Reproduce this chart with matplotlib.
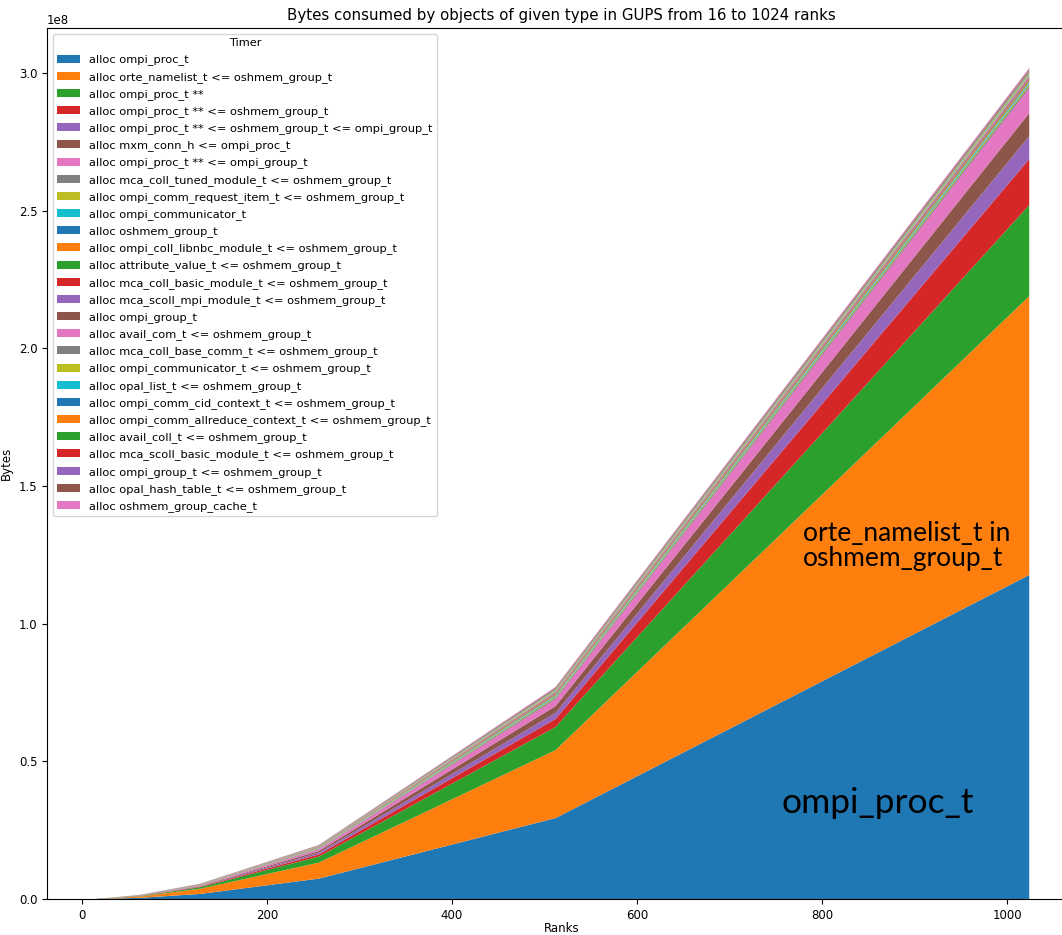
import numpy as np
import matplotlib
matplotlib.use("Agg")
import matplotlib.pyplot as plt

# Ranks measured
ranks = [16, 32, 64, 128, 256, 512, 1024]

# Bytes per object type, in units of 1e6 bytes
ompi_proc = [0.03, 0.12, 0.46, 1.84, 7.4, 29.4, 117.7]
orte_namelist = [0.03, 0.13, 0.50, 1.90, 5.8, 24.7, 101.3]
proc_pp = [0.01, 0.04, 0.14, 0.55, 2.2, 8.4, 33.1]
proc_pp_osh = [0.003, 0.013, 0.05, 0.20, 0.8, 2.9, 16.7]
proc_pp_osh_grp = [0.002, 0.01, 0.04, 0.15, 0.6, 2.2, 8.3]
mxm_conn = [0.002, 0.01, 0.04, 0.15, 0.6, 2.5, 8.4]
proc_pp_grp = [0.003, 0.01, 0.04, 0.17, 0.7, 2.5, 9.1]
coll_tuned = [0.012, 0.018, 0.036, 0.072, 0.18, 0.53, 0.86]
comm_req_item = [0.008, 0.012, 0.024, 0.048, 0.12, 0.35, 0.58]
communicator = [0.008, 0.012, 0.024, 0.048, 0.12, 0.35, 0.58]
oshmem_group = [0.003, 0.005, 0.009, 0.018, 0.045, 0.13, 0.22]
libnbc = [0.006, 0.009, 0.018, 0.036, 0.09, 0.26, 0.43]
attribute_value = [0.004, 0.006, 0.012, 0.024, 0.06, 0.18, 0.29]
coll_basic = [0.005, 0.008, 0.015, 0.03, 0.075, 0.22, 0.36]
scoll_mpi = [0.004, 0.006, 0.012, 0.024, 0.06, 0.18, 0.29]
ompi_group = [0.006, 0.009, 0.018, 0.036, 0.09, 0.26, 0.43]
avail_com = [0.005, 0.008, 0.015, 0.03, 0.075, 0.22, 0.36]
coll_base_comm = [0.004, 0.006, 0.012, 0.024, 0.06, 0.18, 0.29]
communicator_osh = [0.006, 0.009, 0.018, 0.036, 0.09, 0.26, 0.43]
opal_list = [0.003, 0.005, 0.009, 0.018, 0.045, 0.13, 0.22]
cid_context = [0.003, 0.005, 0.009, 0.018, 0.045, 0.13, 0.22]
allreduce_context = [0.003, 0.005, 0.009, 0.018, 0.045, 0.13, 0.22]
avail_coll = [0.004, 0.006, 0.012, 0.024, 0.06, 0.18, 0.29]
scoll_basic = [0.004, 0.006, 0.012, 0.024, 0.06, 0.18, 0.29]
ompi_group_osh = [0.005, 0.008, 0.015, 0.03, 0.075, 0.22, 0.36]
opal_hash_table = [0.004, 0.006, 0.012, 0.024, 0.06, 0.18, 0.29]
group_cache = [0.004, 0.006, 0.012, 0.024, 0.06, 0.18, 0.29]

labels = [
    "alloc ompi_proc_t",
    "alloc orte_namelist_t <= oshmem_group_t",
    "alloc ompi_proc_t **",
    "alloc ompi_proc_t ** <= oshmem_group_t",
    "alloc ompi_proc_t ** <= oshmem_group_t <= ompi_group_t",
    "alloc mxm_conn_h <= ompi_proc_t",
    "alloc ompi_proc_t ** <= ompi_group_t",
    "alloc mca_coll_tuned_module_t <= oshmem_group_t",
    "alloc ompi_comm_request_item_t <= oshmem_group_t",
    "alloc ompi_communicator_t",
    "alloc oshmem_group_t",
    "alloc ompi_coll_libnbc_module_t <= oshmem_group_t",
    "alloc attribute_value_t <= oshmem_group_t",
    "alloc mca_coll_basic_module_t <= oshmem_group_t",
    "alloc mca_scoll_mpi_module_t <= oshmem_group_t",
    "alloc ompi_group_t",
    "alloc avail_com_t <= oshmem_group_t",
    "alloc mca_coll_base_comm_t <= oshmem_group_t",
    "alloc ompi_communicator_t <= oshmem_group_t",
    "alloc opal_list_t <= oshmem_group_t",
    "alloc ompi_comm_cid_context_t <= oshmem_group_t",
    "alloc ompi_comm_allreduce_context_t <= oshmem_group_t",
    "alloc avail_coll_t <= oshmem_group_t",
    "alloc mca_scoll_basic_module_t <= oshmem_group_t",
    "alloc ompi_group_t <= oshmem_group_t",
    "alloc opal_hash_table_t <= oshmem_group_t",
    "alloc oshmem_group_cache_t",
]

series = [ompi_proc, orte_namelist, proc_pp, proc_pp_osh, proc_pp_osh_grp,
          mxm_conn, proc_pp_grp, coll_tuned, comm_req_item, communicator,
          oshmem_group, libnbc, attribute_value, coll_basic, scoll_mpi,
          ompi_group, avail_com, coll_base_comm, communicator_osh, opal_list,
          cid_context, allreduce_context, avail_coll, scoll_basic,
          ompi_group_osh, opal_hash_table, group_cache]
data = np.array(series) * 1e6

plt.rcParams['font.size'] = 8.5

fig = plt.figure(figsize=(10.62, 9.35), dpi=100)
# the right spine sits just past the picture's edge
ax = fig.add_axes([47 / 1062, 36 / 935, 1028.5 / 1062, 871 / 935])

ax.stackplot(ranks, data, labels=labels)
ax.set_xlim(-37.8, 1074)
ax.set_ylim(0, 3.164e8)
ax.set_title("Bytes consumed by objects of given type in GUPS from 16 to 1024 ranks", fontsize=10.8)
ax.set_xlabel("Ranks", labelpad=0)
ax.set_ylabel("Bytes", labelpad=4)
ax.legend(loc="upper left", title="Timer", fontsize=8.2, title_fontsize=8.2,
          labelspacing=0.55)

# annotations added on top of the plot
ax.text(0.735, 0.405, "orte_namelist_t in\noshmem_group_t", transform=ax.transAxes,
        fontsize=19, family="Lato", linespacing=1.0, va="center")
ax.text(0.714, 0.11, "ompi_proc_t", transform=ax.transAxes,
        fontsize=25.5, family="Lato", va="center")

fig.savefig("out.png", dpi=100)
